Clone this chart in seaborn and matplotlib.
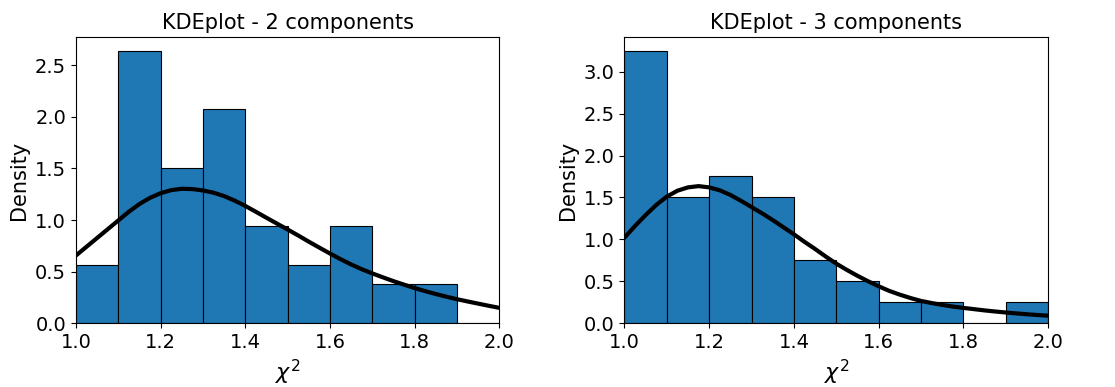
import numpy as np
import pandas as pd
import seaborn as sns
import matplotlib.pyplot as plt

# bin centres and counts (bin width 0.1)
centres = [1.05, 1.15, 1.25, 1.35, 1.45, 1.55, 1.65, 1.75, 1.85, 1.95]
counts_2 = [3, 14, 8, 11, 5, 3, 5, 2, 2, 0]
counts_3 = [13, 6, 7, 6, 3, 2, 1, 1, 0, 1]

# density curves, every 0.025 from 1.0 to 2.0
curve_x = np.linspace(1.0, 2.0, 41)
curve_2 = [0.655, 0.74, 0.825, 0.91, 0.995, 1.08, 1.155, 1.215, 1.26, 1.29,
           1.303, 1.30, 1.287, 1.265, 1.232, 1.188, 1.137, 1.08, 1.022, 0.965,
           0.908, 0.85, 0.79, 0.732, 0.675, 0.62, 0.569, 0.523, 0.482, 0.444,
           0.407, 0.373, 0.34, 0.31, 0.282, 0.256, 0.232, 0.21, 0.189, 0.168,
           0.148]
curve_3 = [1.02, 1.16, 1.29, 1.41, 1.51, 1.58, 1.62, 1.635, 1.62, 1.585,
           1.53, 1.46, 1.385, 1.31, 1.23, 1.145, 1.06, 0.97, 0.885, 0.795,
           0.71, 0.635, 0.565, 0.50, 0.44, 0.385, 0.34, 0.30, 0.265, 0.24,
           0.218, 0.198, 0.182, 0.167, 0.152, 0.139, 0.127, 0.116, 0.106, 0.097,
           0.089]

titles = ['KDEplot - 2 components', 'KDEplot - 3 components']

fig, axes = plt.subplots(1, 2, figsize=(11.15, 3.87), dpi=100)
plt.subplots_adjust(left=0.068, right=0.94, bottom=0.165, top=0.904, wspace=0.295)

for ax, counts, curve, title in zip(axes, [counts_2, counts_3], [curve_2, curve_3], titles):
    df = pd.DataFrame({'chi2': centres, 'n': counts})
    sns.histplot(data=df, x='chi2', weights='n', binwidth=0.1, binrange=(1.0, 2.0),
                 stat='density', color='#1f77b4', edgecolor='black',
                 linewidth=0.8, alpha=1, ax=ax)
    sns.lineplot(x=curve_x, y=curve, color='black', linewidth=3, ax=ax)
    ax.set_xlim(1.0, 2.0)
    ax.set_title(title, fontsize=15)
    ax.set_xlabel(r'$\chi^2$', fontsize=16)
    ax.set_ylabel('Density', fontsize=15)
    ax.tick_params(labelsize=14)

plt.savefig('out.png')
